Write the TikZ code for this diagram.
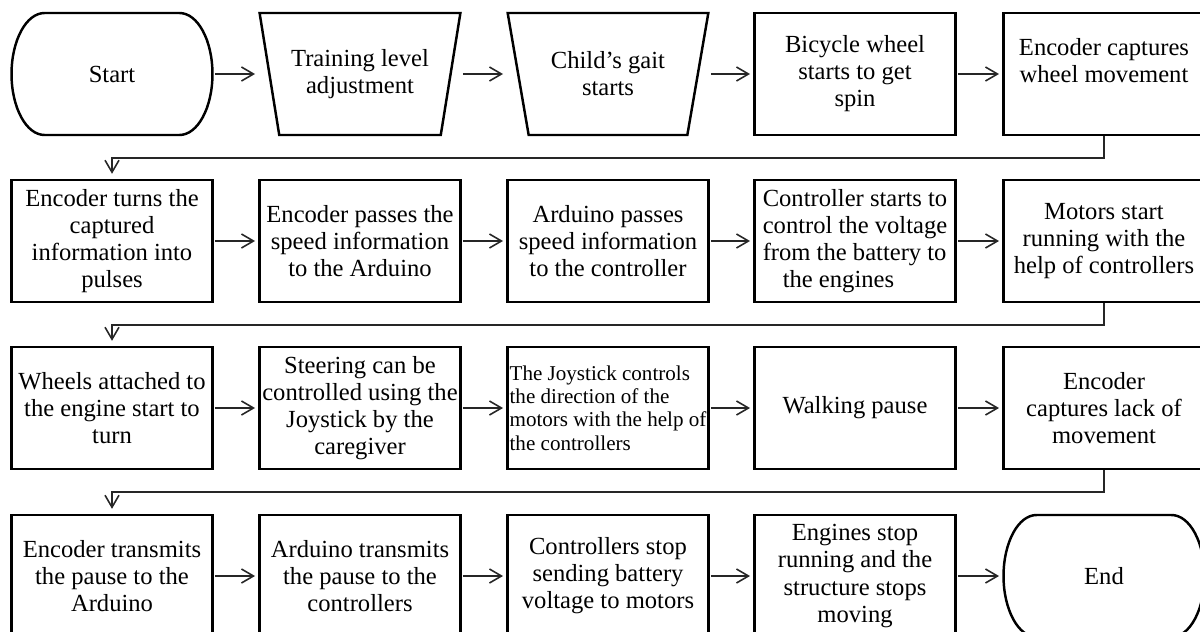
\documentclass[tikz,border=0pt]{standalone}
\usepackage{fontspec}
\setmainfont{Liberation Serif}
\usetikzlibrary{arrows.meta,shapes.geometric}

\begin{document}
\begin{tikzpicture}[x=0.02cm, y=-0.02cm,
  block/.style={draw, line width=1.4pt, minimum width=4.02cm, minimum height=2.44cm, inner sep=1pt, align=center, font=\fontsize{14pt}{15.4pt}\selectfont},
  term/.style={block, draw=none, outer sep=0pt},
  trap/.style={block, trapezium, trapezium angle=72, trapezium stretches=true, shape border rotate=180},
  flow/.style={-{Straight Barb[length=2.4mm,width=2.8mm]}, line width=0.9pt, black!85},
  edge/.style={line width=1.4pt}]

\useasboundingbox (0,0) rectangle (1200,632);
\clip (0,0) rectangle (1200,632);

% Row 1
\node[term] (start) at (112,74) {Start};
\node[trap] (level) at (360,74) {Training level\\adjustment};
\node[trap] (gait) at (608,74) {Child's gait\\starts};
\node[block] (spin) at (855,74) {Bicycle wheel\\starts to get\\spin};
\node[block] (capture) at (1104,74) {Encoder captures\\wheel movement\\\mbox{}};

\draw[edge] ([xshift=0.66cm]start.north west) -- ([xshift=-0.66cm]start.north east)
  arc[start angle=90, end angle=-90, x radius=0.66cm, y radius=1.22cm]
  -- ([xshift=0.66cm]start.south west)
  arc[start angle=270, end angle=90, x radius=0.66cm, y radius=1.22cm] -- cycle;

% Row 2
\node[block] (pulses) at (112,241) {Encoder turns the\\captured\\information into\\pulses};
\node[block] (passenc) at (360,241) {Encoder passes the\\speed information\\to the Arduino};
\node[block] (passard) at (608,241) {Arduino passes\\speed information\\to the controller};
\node[block, align=left] (voltage) at (855,241) {Controller starts to\\control the voltage\\from the battery to\\\hspace*{0.4cm}the engines};
\node[block] (motors) at (1104,241) {Motors start\\running with the\\help of controllers};

% Row 3
\node[block] (wheels) at (112,408) {Wheels attached to\\the engine start to\\turn};
\node[block] (steer) at (360,408) {Steering can be\\controlled using the\\Joystick by the\\caregiver};
\node[block, align=left, font=\fontsize{12pt}{13.3pt}\selectfont] (joystick) at (608,408) {The Joystick controls\\the direction of the\\motors with the help of\\the controllers};
\node[block] (pause) at (855,408) {Walking pause};
\node[block] (lack) at (1104,408) {Encoder\\captures lack of\\movement};

% Row 4
\node[block] (sendenc) at (112,576) {Encoder transmits\\the pause to the\\Arduino};
\node[block] (sendard) at (360,576) {Arduino transmits\\the pause to the\\controllers};
\node[block] (stopctrl) at (608,576) {Controllers stop\\sending battery\\voltage to motors};
\node[block] (stopeng) at (855,576) {Engines stop\\running and the\\structure stops\\moving};
\node[term] (stop) at (1104,576) {End};

\draw[edge] ([xshift=0.66cm]stop.north west) -- ([xshift=-0.66cm]stop.north east)
  arc[start angle=90, end angle=-90, x radius=0.66cm, y radius=1.22cm]
  -- ([xshift=0.66cm]stop.south west)
  arc[start angle=270, end angle=90, x radius=0.66cm, y radius=1.22cm] -- cycle;

% Arrows along the rows
\draw[flow] ([xshift=2.06cm]start.center) -- ([xshift=-2.1cm]level.center);
\draw[flow] ([xshift=2.06cm]level.center) -- ([xshift=-2.1cm]gait.center);
\draw[flow] ([xshift=2.06cm]gait.center) -- ([xshift=-2.1cm]spin.center);
\draw[flow] ([xshift=2.06cm]spin.center) -- ([xshift=-2.1cm]capture.center);

\draw[flow] ([xshift=2.06cm]pulses.center) -- ([xshift=-2.1cm]passenc.center);
\draw[flow] ([xshift=2.06cm]passenc.center) -- ([xshift=-2.1cm]passard.center);
\draw[flow] ([xshift=2.06cm]passard.center) -- ([xshift=-2.1cm]voltage.center);
\draw[flow] ([xshift=2.06cm]voltage.center) -- ([xshift=-2.1cm]motors.center);

\draw[flow] ([xshift=2.06cm]wheels.center) -- ([xshift=-2.1cm]steer.center);
\draw[flow] ([xshift=2.06cm]steer.center) -- ([xshift=-2.1cm]joystick.center);
\draw[flow] ([xshift=2.06cm]joystick.center) -- ([xshift=-2.1cm]pause.center);
\draw[flow] ([xshift=2.06cm]pause.center) -- ([xshift=-2.1cm]lack.center);

\draw[flow] ([xshift=2.06cm]sendenc.center) -- ([xshift=-2.1cm]sendard.center);
\draw[flow] ([xshift=2.06cm]sendard.center) -- ([xshift=-2.1cm]stopctrl.center);
\draw[flow] ([xshift=2.06cm]stopctrl.center) -- ([xshift=-2.1cm]stopeng.center);
\draw[flow] ([xshift=2.06cm]stopeng.center) -- ([xshift=-2.1cm]stop.center);

% Returns to the next row
\draw[flow, shorten >=0.1cm] (capture.south) -- ++(0,22) -| (pulses.north);
\draw[flow, shorten >=0.1cm] (motors.south) -- ++(0,22) -| (wheels.north);
\draw[flow, shorten >=0.1cm] (lack.south) -- ++(0,22) -| (sendenc.north);

\end{tikzpicture}
\end{document}
